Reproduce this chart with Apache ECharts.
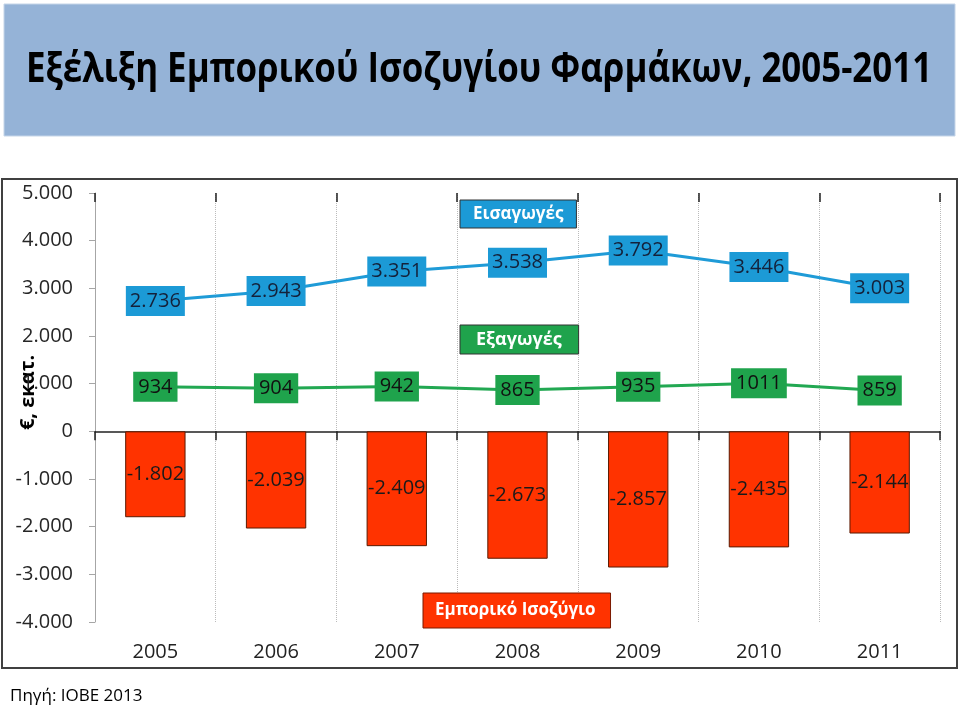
<!DOCTYPE html>
<html>
<head>
<meta charset="utf-8">
<script src="https://cdn.jsdelivr.net/npm/echarts@6/dist/echarts.min.js"></script>
<style>html,body{margin:0;padding:0;background:#fff}#main{width:960px;height:710px}</style>
</head>
<body>
<div id="main"></div>
<script>
var years = ['2005','2006','2007','2008','2009','2010','2011'];
var imports = [2736, 2943, 3351, 3538, 3792, 3446, 3003];
var exportsV = [934, 904, 942, 865, 935, 1011, 859];
var balance = [-1802, -2039, -2409, -2673, -2857, -2435, -2144];

function fmt(v) {
  var s = Math.abs(v).toString().replace(/\B(?=(\d{3})+(?!\d))/g, '.');
  return (v < 0 ? '-' : '') + s;
}
var FONT = 'Open Sans';
var chart = echarts.init(document.getElementById('main'));
chart.setOption({
  animation: false,
  textStyle: { fontFamily: FONT },
  graphic: [
    { type: 'rect', z: -10, shape: { x: 4, y: 4, width: 951, height: 132 }, style: { fill: '#95B3D7', stroke: '#C5D5E8', lineWidth: 1 } },
    { type: 'text', z: 10, x: 479, y: 70, scaleX: 0.83,
      style: { text: 'Εξέλιξη Εμπορικού Ισοζυγίου Φαρμάκων, 2005-2011', font: 'bold 42px "Open Sans"', fill: '#000',
        textAlign: 'center', textVerticalAlign: 'middle' } },
    { type: 'rect', z: -10, shape: { x: 2, y: 179, width: 955, height: 489 }, style: { fill: 'none', stroke: '#404040', lineWidth: 2 } },
    { type: 'text', left: 10, top: 688, style: { text: 'Πηγή: ΙΟΒΕ 2013', font: '17px "Open Sans"', fill: '#000' } }
  ],
  legend: [
    { data: ['Εισαγωγές'], left: 460, top: 200, icon: 'none', itemWidth: 0, itemHeight: 0, selectedMode: false,
      backgroundColor: '#1C9AD6', borderColor: '#333', borderWidth: 1, padding: [6, 13, 5, 8],
      textStyle: { color: '#fff', fontWeight: 'bold', fontSize: 17, fontFamily: FONT } },
    { data: ['Εξαγωγές'], left: 460, top: 325, icon: 'none', itemWidth: 0, itemHeight: 0, selectedMode: false,
      backgroundColor: '#1FA34C', borderColor: '#333', borderWidth: 1, padding: [6, 17, 5, 11],
      textStyle: { color: '#fff', fontWeight: 'bold', fontSize: 18, fontFamily: FONT } },
    { data: ['Εμπορικό Ισοζύγιο'], left: 423, top: 593, icon: 'none', itemWidth: 0, itemHeight: 0, selectedMode: false,
      backgroundColor: '#FF3300', borderColor: '#7A1A00', borderWidth: 1, padding: [9, 15, 9, 7],
      textStyle: { color: '#fff', fontWeight: 'bold', fontSize: 17, fontFamily: FONT } }
  ],
  grid: { left: 95, right: 20, top: 193, bottom: 88, containLabel: false, outerBoundsMode: 'none' },
  xAxis: [
    { type: 'category', data: years, boundaryGap: true,
      axisLine: { onZero: true, lineStyle: { color: '#222', width: 1.5 } },
      axisTick: { show: true, length: 9, lineStyle: { color: '#222', width: 1.5 } },
      axisLabel: { show: false },
      splitLine: { show: true, lineStyle: { color: '#BBBBBB', type: 'dotted', width: 1 } } },
    { type: 'category', data: years, position: 'bottom', boundaryGap: true,
      axisLine: { show: false, onZero: false }, axisTick: { show: false },
      axisLabel: { show: true, margin: 20, fontSize: 20, color: '#222', fontFamily: FONT },
      splitLine: { show: false } },
    { type: 'category', data: years, boundaryGap: true,
      axisLine: { show: false, onZero: true }, axisTick: { show: true, inside: true, length: 9, lineStyle: { color: '#222', width: 1.5 } },
      axisLabel: { show: false }, splitLine: { show: false } }
  ],
  yAxis: {
    type: 'value', min: -4000, max: 5000, interval: 1000,
    name: '€, εκατ.', nameLocation: 'middle', nameGap: 57, nameRotate: 90, nameMoveOverlap: false,
    nameTextStyle: { fontSize: 20, fontWeight: 'bold', color: '#000', fontFamily: FONT, padding: [0, 0, 0, 30] },
    axisLine: { show: true, lineStyle: { color: '#A6A6A6', width: 1 } },
    axisTick: { show: true, length: 6, lineStyle: { color: '#A6A6A6' } },
    axisLabel: { fontSize: 20, color: '#262626', margin: 22, fontFamily: FONT, formatter: function (v) { return fmt(v); } },
    splitLine: { show: false }
  },
  series: [
    { name: 'Εμπορικό Ισοζύγιο', type: 'bar', xAxisIndex: 0, data: balance, barWidth: '50%',
      itemStyle: { color: '#FF3300', borderColor: '#5A1A00', borderWidth: 1 },
      label: { show: true, position: 'inside', color: '#1a1a1a', fontSize: 20, fontFamily: FONT, formatter: function (p) { return fmt(p.value); } } },
    { name: 'Εισαγωγές', type: 'line', xAxisIndex: 0, data: imports, symbol: 'circle', symbolSize: 1,
      lineStyle: { color: '#1F9BD7', width: 3 }, itemStyle: { color: '#1F9BD7' },
      label: { show: true, position: 'inside', backgroundColor: '#1C9AD6', color: '#14213a', fontSize: 20, fontFamily: FONT,
        padding: [6, 4, 4, 4], formatter: function (p) { return fmt(p.value); } } },
    { name: 'Εξαγωγές', type: 'line', xAxisIndex: 0, data: exportsV, symbol: 'circle', symbolSize: 1,
      lineStyle: { color: '#22A852', width: 3 }, itemStyle: { color: '#22A852' },
      label: { show: true, position: 'inside', backgroundColor: '#1FA34C', color: '#111', fontSize: 20, fontFamily: FONT,
        padding: [6, 5, 4, 5], formatter: function (p) { return String(p.value); } } }
  ]
});
</script>
</body>
</html>
